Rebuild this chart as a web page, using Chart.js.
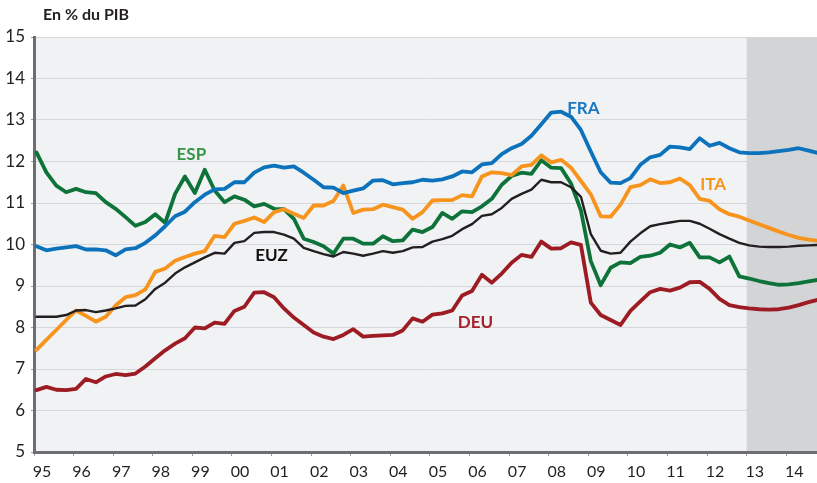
<!DOCTYPE html>
<html>
<head>
<meta charset="utf-8">
<script src="https://cdn.jsdelivr.net/npm/chart.js@4/dist/chart.umd.min.js"></script>
<style>
  html, body { margin: 0; padding: 0; background: #ffffff; }
  #wrap { position: relative; width: 817px; height: 483px; }
</style>
</head>
<body>
<div id="wrap"><canvas id="c"></canvas></div>
<script>
// ---- Data (quarterly, 1995T1 .. 2014T4, % of GDP) ----
const yearLabels = ["95","96","97","98","99","00","01","02","03","04","05","06","07","08","09","10","11","12","13","14"];
const quarters = [];
for (let y = 1995; y <= 2014; y++) { for (let q = 1; q <= 4; q++) quarters.push(y + "T" + q); }

const FRA = [9.96,9.86,9.90,9.93,9.96,9.88,9.88,9.86,9.74,9.88,9.91,10.04,10.22,10.44,10.68,10.79,11.02,11.20,11.33,11.34,
             11.50,11.50,11.73,11.86,11.90,11.85,11.88,11.73,11.56,11.38,11.37,11.24,11.30,11.35,11.54,11.55,11.45,11.48,11.50,11.56,
             11.54,11.57,11.64,11.76,11.74,11.93,11.96,12.18,12.32,12.42,12.62,12.90,13.18,13.20,13.08,12.76,12.24,11.74,11.49,11.48,
             11.60,11.92,12.10,12.16,12.36,12.34,12.30,12.56,12.38,12.45,12.32,12.22,12.20,12.20,12.22,12.25,12.28,12.32,12.26,12.20];
const ITA = [7.46,7.70,7.94,8.18,8.41,8.28,8.14,8.26,8.53,8.73,8.78,8.92,9.34,9.42,9.61,9.70,9.78,9.84,10.21,10.18,
             10.50,10.57,10.65,10.54,10.78,10.85,10.74,10.64,10.94,10.94,11.05,11.42,10.76,10.84,10.85,10.96,10.90,10.84,10.62,10.78,
             11.06,11.07,11.07,11.19,11.16,11.64,11.74,11.72,11.67,11.88,11.92,12.15,11.98,12.04,11.85,11.53,11.21,10.68,10.67,10.96,
             11.38,11.43,11.57,11.48,11.50,11.59,11.43,11.10,11.05,10.85,10.73,10.67,10.58,10.49,10.40,10.31,10.23,10.16,10.12,10.09];
const ESP = [12.22,11.74,11.42,11.26,11.34,11.26,11.24,11.02,10.86,10.66,10.45,10.54,10.73,10.52,11.22,11.64,11.24,11.80,11.30,11.02,
             11.16,11.08,10.92,10.98,10.86,10.85,10.62,10.14,10.06,9.96,9.78,10.14,10.14,10.02,10.02,10.20,10.08,10.10,10.36,10.30,
             10.42,10.76,10.62,10.80,10.78,10.92,11.10,11.44,11.65,11.73,11.70,12.03,11.85,11.84,11.47,10.82,9.60,9.02,9.44,9.57,
             9.55,9.70,9.73,9.80,10.00,9.93,10.04,9.69,9.69,9.57,9.71,9.23,9.18,9.12,9.07,9.03,9.04,9.07,9.11,9.15];
const EUZ = [8.26,8.26,8.26,8.30,8.41,8.42,8.37,8.41,8.46,8.52,8.53,8.68,8.93,9.08,9.30,9.45,9.57,9.69,9.80,9.78,
             10.04,10.08,10.28,10.30,10.30,10.24,10.14,9.92,9.84,9.77,9.71,9.82,9.78,9.73,9.78,9.84,9.80,9.84,9.93,9.94,
             10.07,10.13,10.21,10.37,10.49,10.69,10.73,10.88,11.10,11.22,11.32,11.56,11.50,11.50,11.38,11.15,10.25,9.85,9.78,9.80,
             10.07,10.27,10.44,10.49,10.53,10.57,10.57,10.50,10.38,10.25,10.14,10.04,9.98,9.95,9.94,9.94,9.95,9.97,9.98,9.99];
const DEU = [6.49,6.57,6.50,6.49,6.52,6.76,6.68,6.82,6.88,6.85,6.89,7.06,7.26,7.45,7.61,7.74,8.00,7.98,8.12,8.09,
             8.40,8.50,8.84,8.85,8.73,8.46,8.24,8.06,7.88,7.78,7.72,7.82,7.96,7.78,7.80,7.81,7.82,7.93,8.22,8.14,
             8.31,8.34,8.41,8.77,8.88,9.27,9.08,9.30,9.56,9.75,9.70,10.07,9.90,9.91,10.05,9.99,8.60,8.30,8.18,8.06,
             8.40,8.63,8.85,8.93,8.89,8.96,9.09,9.10,8.93,8.69,8.54,8.49,8.46,8.44,8.43,8.44,8.48,8.54,8.61,8.67];
const forecastStartQuarter = 72; // 2013T1: start of the shaded (forecast) zone
const yTicks = [5,6,7,8,9,10,11,12,13,14,15];

// ---- Chart ----
const qOffset = 0.25;
const toPts = arr => arr.map((v, k) => ({ x: k + qOffset, y: v }));

const seriesDefs = [
  { label: "EUZ", data: EUZ, color: "#231f20", width: 2.4, text: "#111111", lx: 24.0, ly: 9.74 },
  { label: "FRA", data: FRA, color: "#0b72bb", width: 3.8, text: "#1a78c2", lx: 55.5, ly: 13.28 },
  { label: "ITA", data: ITA, color: "#f7941e", width: 3.8, text: "#f7941e", lx: 68.6, ly: 11.45 },
  { label: "ESP", data: ESP, color: "#0d7339", width: 3.8, text: "#359646", lx: 15.9, ly: 12.18 },
  { label: "DEU", data: DEU, color: "#9d1c24", width: 3.8, text: "#a5202a", lx: 44.6, ly: 8.13 }
];

const bgPlugin = {
  id: "bgPlugin",
  beforeDraw(chart) {
    const { ctx, chartArea: a, scales } = chart;
    ctx.save();
    ctx.fillStyle = "#f1f2f4";
    ctx.fillRect(a.left, a.top, a.right - a.left, a.bottom - a.top);
    const xs = scales.x.getPixelForValue(forecastStartQuarter);
    ctx.fillStyle = "#d3d4d6";
    ctx.fillRect(xs, a.top, a.right - xs, a.bottom - a.top);
    ctx.restore();
    // title
    ctx.save();
    ctx.fillStyle = "#231f20";
    ctx.font = "bold 16px Lato";
    ctx.textBaseline = "alphabetic";
    ctx.textAlign = "left";
    ctx.fillText("En % du PIB", 43, 20);
    ctx.restore();
  },
  afterDatasetsDraw(chart) {
    const { ctx, scales } = chart;
    ctx.save();
    ctx.font = "bold 17px Lato";
    ctx.textAlign = "center";
    ctx.textBaseline = "middle";
    seriesDefs.forEach(s => {
      ctx.fillStyle = s.text;
      ctx.fillText(s.label, scales.x.getPixelForValue(s.lx), scales.y.getPixelForValue(s.ly));
    });
    ctx.restore();
  }
};

new Chart(document.getElementById("c"), {
  type: "line",
  data: {
    datasets: seriesDefs.map(s => ({
      label: s.label,
      data: toPts(s.data),
      borderColor: s.color,
      borderWidth: s.width,
      pointRadius: 0,
      tension: 0,
      fill: false,
      borderJoinStyle: "round",
      borderCapStyle: "round"
    }))
  },
  options: {
    responsive: true,
    maintainAspectRatio: false,
    animation: false,
    layout: { padding: { top: 37, left: 0, right: 0, bottom: 0 } },
    plugins: { legend: { display: false }, tooltip: { enabled: false }, title: { display: false } },
    scales: {
      x: {
        type: "linear",
        min: 0,
        max: 79.1,
        afterBuildTicks: sc => { sc.ticks = yearLabels.map((_, k) => ({ value: k * 4 })); },
        afterFit: sc => { sc.height = 31; },
        ticks: {
          callback: (v) => yearLabels[Math.round(v / 4)],
          font: { family: "Lato", size: 16 },
          color: "#231f20",
          labelOffset: 8,
          padding: 6,
          maxRotation: 0,
          autoSkip: false
        },
        grid: { drawOnChartArea: false, drawTicks: true, tickLength: 4, tickColor: "#9a9b9e", lineWidth: 1 },
        border: { display: true, color: "#6d6e71", width: 3 }
      },
      y: {
        type: "linear",
        min: 5,
        max: 15,
        afterBuildTicks: sc => { sc.ticks = yTicks.map(v => ({ value: v })); },
        afterFit: sc => { sc.width = 34; },
        ticks: {
          font: { family: "Lato", size: 17 },
          color: "#231f20",
          padding: 6
        },
        grid: { color: "#d6d7da", lineWidth: 1, drawTicks: true, tickLength: 3, tickColor: "#9a9b9e" },
        border: { display: true, color: "#6d6e71", width: 3 }
      }
    }
  },
  plugins: [bgPlugin]
});
</script>
</body>
</html>
